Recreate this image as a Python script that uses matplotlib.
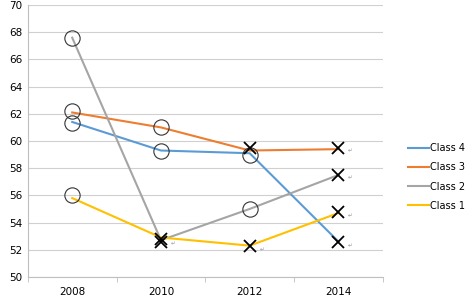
import matplotlib
matplotlib.use("Agg")
import matplotlib.pyplot as plt

# Years (categories) and class scores
years = ["2008", "2010", "2012", "2014"]
class4 = [61.4, 59.3, 59.1, 52.6]
class3 = [62.1, 61.0, 59.3, 59.4]
class2 = [67.6, 52.7, 55.0, 57.5]
class1 = [55.8, 52.9, 52.3, 54.7]

# hand-drawn annotation marks: (category index, value)
circles = [(0, 67.6), (0, 62.2), (0, 61.3), (0, 56.0),
           (1, 61.0), (1, 59.3), (2, 59.0), (2, 55.0)]
crosses = [(1, 52.8), (1, 52.6), (2, 59.5), (2, 52.3),
           (3, 59.5), (3, 57.5), (3, 54.8), (3, 52.6)]
returns = [(1, 52.4), (2, 52.0), (3, 59.3), (3, 57.3), (3, 54.5), (3, 52.3)]

series = [("Class 4", class4, "#5B9BD5"),
          ("Class 3", class3, "#ED7D31"),
          ("Class 2", class2, "#A5A5A5"),
          ("Class 1", class1, "#FFC000")]

fig = plt.figure(figsize=(4.72, 3.0), dpi=100)
ax = fig.add_axes([0.059, 0.077, 0.752, 0.906])

x = list(range(len(years)))
for name, vals, col in series:
    ax.plot(x, vals, color=col, lw=1.5, label=name, zorder=3)

ax.plot([c[0] for c in circles], [c[1] for c in circles], "o", ms=11,
        mfc="none", mec="#333333", mew=0.8, zorder=4)
ax.plot([c[0] for c in crosses], [c[1] for c in crosses], "x", ms=9,
        color="black", mew=1.3, zorder=4)
for rx, ry in returns:
    ax.text(rx + 0.11, ry, "\u21b5", fontsize=4, color="#999999", va="center")

ax.set_xlim(-0.5, 3.5)
ax.set_ylim(50, 70)
ax.set_yticks(range(50, 71, 2))
ax.set_xticks(x)
ax.set_xticklabels(years)
ax.set_xticks([-0.5, 0.5, 1.5, 2.5, 3.5], minor=True)
ax.tick_params(axis="x", which="major", length=0, labelsize=7.5, pad=7)
ax.tick_params(axis="x", which="minor", length=3.5, color="#BFBFBF", direction="out")
ax.tick_params(axis="y", length=0, labelsize=7.5, pad=4)
ax.grid(axis="y", color="#D0D0D0", lw=0.8)
ax.set_axisbelow(True)
for s in ["top", "right"]:
    ax.spines[s].set_visible(False)
for s in ["left", "bottom"]:
    ax.spines[s].set_color("#BFBFBF")
    ax.spines[s].set_linewidth(0.8)

fig.legend(loc="center left", bbox_to_anchor=(0.845, 0.41), frameon=False,
           fontsize=7, handlelength=2.2, handletextpad=0.1, labelspacing=0.95)

fig.savefig("out.png", dpi=100)
